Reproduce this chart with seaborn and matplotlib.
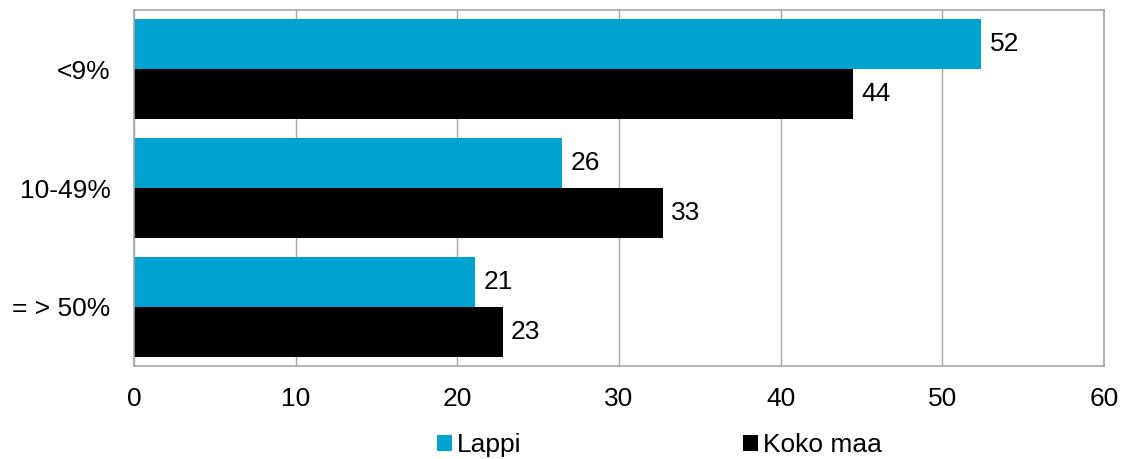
import matplotlib
matplotlib.use("Agg")
import matplotlib.pyplot as plt
import seaborn as sns
import pandas as pd
from matplotlib.patches import Patch

categories = ["<9%", "10-49%", "= > 50%"]
series_names = ["Lappi", "Koko maa"]
lappi = [52.4, 26.5, 21.1]
koko_maa = [44.5, 32.7, 22.8]
lappi_labels = ["52", "26", "21"]
koko_labels = ["44", "33", "23"]
x_ticks = [0, 10, 20, 30, 40, 50, 60]
colors = ["#00A3CF", "#000000"]

sns.set_theme(style="white")
plt.rcParams["font.family"] = ["Liberation Sans", "DejaVu Sans"]
plt.rcParams["text.color"] = "black"
plt.rcParams["xtick.color"] = "black"
plt.rcParams["ytick.color"] = "black"

rows = []
for c, a, b in zip(categories, lappi, koko_maa):
    rows.append({"cat": c, "series": series_names[0], "value": a})
    rows.append({"cat": c, "series": series_names[1], "value": b})
df = pd.DataFrame(rows)

fig = plt.figure(figsize=(11.22, 4.59), dpi=100)
ax = fig.add_axes([134 / 1122, 1 - 366 / 459, (1104 - 134) / 1122, (366 - 10) / 459])

sns.barplot(data=df, y="cat", x="value", hue="series", order=categories,
            hue_order=series_names, palette=colors, orient="h", width=0.84,
            ax=ax, legend=False, saturation=1, linewidth=0)

fs = 19
ax.set_xlim(0, 60)
ax.set_xticks(x_ticks)
ax.set_xticklabels([str(t) for t in x_ticks], fontsize=fs, color="black")
ax.tick_params(axis="y", labelsize=fs, length=0, pad=17, labelcolor="black")
ax.tick_params(axis="x", length=0, pad=15, labelcolor="black")
ax.set_xlabel("")
ax.set_ylabel("")
ax.grid(axis="x", color="#A6A6A6", linewidth=1)
ax.set_axisbelow(True)
for s in ax.spines.values():
    s.set_color("#A6A6A6")
    s.set_linewidth(1.2)

for cont, labs in zip(ax.containers, [lappi_labels, koko_labels]):
    ax.bar_label(cont, labels=labs, padding=6, fontsize=fs, color="black")

handles = [Patch(facecolor=col, edgecolor="none") for col in colors]
fig.legend(handles, series_names, loc="center", bbox_to_anchor=(0.588, 0.030),
           ncol=2, frameon=False, fontsize=fs, handlelength=0.55, handleheight=0.55,
           handletextpad=0.2, columnspacing=8.4, labelcolor="black")

fig.savefig("out.png", dpi=100)
